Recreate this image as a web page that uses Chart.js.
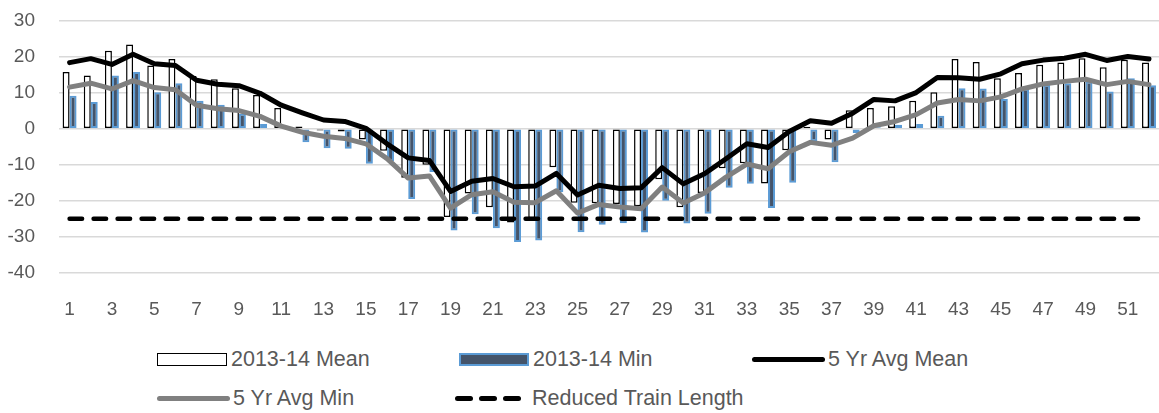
<!DOCTYPE html>
<html>
<head>
<meta charset="utf-8">
<script src="https://cdn.jsdelivr.net/npm/chart.js@4.4.1/dist/chart.umd.min.js"></script>
<style>
  html, body { margin: 0; padding: 0; background: #fff; overflow: hidden; }
  #wrap { position: relative; width: 1159px; height: 413px; overflow: hidden; }
  /* the y tick padding adds space above the plot, so the canvas is lifted;
     it is also wider than the page so the last week runs off the right edge */
  #chart { position: absolute; left: 0; top: -15px; }
  .leg { position: absolute; display: flex; align-items: center; height: 26px;
         font: 21.5px "Liberation Sans", Arial, sans-serif; color: #595959; white-space: nowrap; }
  .sw { margin-right: 4px; box-sizing: border-box; }
</style>
</head>
<body>
<div id="wrap">
  <canvas id="chart" width="1174" height="335"></canvas>
  <div id="legend"></div>
</div>
<script>
// week numbers on the category axis
const weeks = ['1','2','3','4','5','6','7','8','9','10','11','12','13','14','15','16','17','18','19','20',
  '21','22','23','24','25','26','27','28','29','30','31','32','33','34','35','36','37','38','39','40',
  '41','42','43','44','45','46','47','48','49','50','51','52'];

// 2013-14 weekly mean temperature
const mean1314 = [15.7, 14.7, 21.6, 23.3, 17.5, 19.3, 14.6, 13.7, 11.2, 9.3,
  5.7, 0.6, -0.5, -0.8, -3, -6.1, -13.6, -10, -24.5, -18,
  -21.8, -26, -24.8, -10.7, -20.5, -20.7, -20.9, -21.5, -14, -21.8,
  -17.8, -11, -9.6, -15.2, -6, 0.5, -3, 5.1, 5.7, 6.2,
  7.7, 10.1, 19.3, 18.5, 14, 15.4, 17.7, 18.3, 19.5, 17,
  19.1, 18.3];

// 2013-14 weekly minimum
const min1314 = [9.1, 7.4, 14.7, 15.7, 10.1, 12.6, 7.7, 6.6, 4.1, 1.3,
  0.5, -3.8, -5.4, -5.6, -9.7, -9.1, -19.5, -12, -28.2, -23.7,
  -27.6, -31.4, -31, -17.6, -28.7, -26.6, -26.2, -28.8, -20, -26.3,
  -23.6, -16.4, -15.3, -22, -15, -3.5, -9.3, -1.2, 0.4, 1.1,
  1.3, 3.6, 11.2, 11.1, 8.2, 11, 12.2, 12.6, 13.1, 10.3,
  14, 12];

// 5 year averages
const avgMean5 = [18.3, 19.4, 17.8, 20.6, 18, 17.5, 13.4, 12.3, 11.9, 9.8,
  6.5, 4.4, 2.4, 2.0, 0.1, -4.2, -8.1, -8.8, -17.4, -14.6,
  -13.8, -16.1, -15.9, -12.4, -18.4, -15.7, -16.6, -16.4, -10.8, -15.3,
  -12.5, -8.4, -4.2, -5.2, -0.8, 2.2, 1.5, 4.3, 8.1, 7.7,
  10, 14.2, 14.1, 13.7, 15.2, 18, 19, 19.5, 20.6, 18.9,
  20, 19.3];

const avgMin5 = [11.5, 12.6, 11, 13.3, 11.4, 10.8, 6.5, 5.5, 5.0, 3.4,
  0.7, -1.0, -2.1, -2.7, -4.2, -8.3, -13.7, -13.1, -22, -18.3,
  -17.5, -20.4, -20.5, -17.2, -23.4, -21, -21.7, -22.2, -16.2, -20.6,
  -17.8, -13.5, -9.8, -11.1, -6.4, -3.8, -4.6, -2.6, 0.8, 2,
  3.9, 7.1, 8.1, 7.7, 8.8, 11, 12.4, 13.1, 13.7, 12.2,
  13.1, 12.2];

// reduced train length threshold
const reducedTrain = [-25, -25, -25, -25, -25, -25, -25, -25, -25, -25,
  -25, -25, -25, -25, -25, -25, -25, -25, -25, -25,
  -25, -25, -25, -25, -25, -25, -25, -25, -25, -25,
  -25, -25, -25, -25, -25, -25, -25, -25, -25, -25,
  -25, -25, -25, -25, -25, -25, -25, -25, -25, -25,
  -25, -25];

const FONT = '"Liberation Sans", Arial, sans-serif';
const TEXT = '#595959';

const chart = new Chart(document.getElementById('chart'), {
  type: 'bar',
  data: {
    labels: weeks,
    datasets: [
      {
        label: '2013-14 Mean',
        data: mean1314,
        backgroundColor: '#FFFFFF',
        borderColor: '#000000',
        borderWidth: 1.5,
        borderSkipped: false,
        order: 4
      },
      {
        label: '2013-14 Min',
        data: min1314,
        backgroundColor: '#44546A',
        borderColor: '#5B9BD5',
        borderWidth: 2,
        borderSkipped: false,
        order: 5
      },
      {
        type: 'line',
        label: '5 Yr Avg Mean',
        data: avgMean5,
        borderColor: '#000000',
        borderWidth: 5,
        borderJoinStyle: 'round',
        borderCapStyle: 'round',
        pointRadius: 0,
        tension: 0,
        order: 3
      },
      {
        type: 'line',
        label: '5 Yr Avg Min',
        data: avgMin5,
        borderColor: '#808080',
        borderWidth: 5,
        borderJoinStyle: 'round',
        borderCapStyle: 'round',
        pointRadius: 0,
        tension: 0,
        order: 2
      },
      {
        type: 'line',
        label: 'Reduced Train Length',
        data: reducedTrain,
        borderColor: '#000000',
        borderWidth: 4.5,
        borderDash: [12.5, 11.5],
        borderCapStyle: 'round',
        pointRadius: 0,
        tension: 0,
        order: 1
      }
    ]
  },
  options: {
    responsive: false,
    animation: false,
    layout: { padding: { top: 6, right: 0, bottom: 0, left: 0 } },
    datasets: {
      bar: { categoryPercentage: 0.66, barPercentage: 1.0 }
    },
    plugins: {
      legend: { display: false },
      tooltip: { enabled: false }
    },
    scales: {
      x: {
        grid: { display: false, drawTicks: false },
        border: { display: false },
        ticks: {
          color: TEXT,
          font: { family: FONT, size: 19 },
          padding: 25,
          autoSkip: false,
          maxRotation: 0,
          callback: function(value, index) {
            return index % 2 === 0 ? this.getLabelForValue(value) : '';
          }
        },
        afterFit: (scale) => { scale.height = 47; }
      },
      y: {
        min: -40,
        max: 30,
        grid: { color: '#D9D9D9', lineWidth: 1.5, drawTicks: false },
        border: { display: false },
        ticks: {
          stepSize: 10,
          color: TEXT,
          font: { family: FONT, size: 19 },
          padding: 24
        },
        afterFit: (scale) => { scale.width = 59; }
      }
    }
  }
});

// legend laid out like the spreadsheet legend: two rows, fixed columns
const legendSpots = [
  { x: 157, y: 359 },
  { x: 459, y: 359 },
  { x: 752, y: 359 },
  { x: 157, y: 398 },
  { x: 455, y: 398 }
];

function makeSwatch(ds) {
  const sw = document.createElement('div');
  sw.className = 'sw';
  if (ds.type !== 'line') {
    sw.style.width = '70px';
    sw.style.height = '13px';
    sw.style.background = ds.backgroundColor;
    sw.style.border = ds.borderWidth + 'px solid ' + ds.borderColor;
  } else if (ds.borderDash) {
    sw.style.display = 'flex';
    sw.style.gap = '6px';
    sw.style.marginRight = '11px';
    for (let i = 0; i < 3; i++) {
      const d = document.createElement('div');
      d.style.width = '18px';
      d.style.height = '5px';
      d.style.borderRadius = '3px';
      d.style.background = ds.borderColor;
      sw.appendChild(d);
    }
  } else {
    sw.style.width = '73px';
    sw.style.height = '5px';
    sw.style.borderRadius = '3px';
    sw.style.background = ds.borderColor;
    sw.style.marginRight = '3px';
  }
  return sw;
}

const legendBox = document.getElementById('legend');
chart.data.datasets.forEach((ds, i) => {
  const item = document.createElement('div');
  item.className = 'leg';
  item.style.left = legendSpots[i].x + 'px';
  item.style.top = (legendSpots[i].y - 13) + 'px';
  item.appendChild(makeSwatch(ds));
  const txt = document.createElement('span');
  txt.textContent = ds.label;
  item.appendChild(txt);
  legendBox.appendChild(item);
});
</script>
</body>
</html>
